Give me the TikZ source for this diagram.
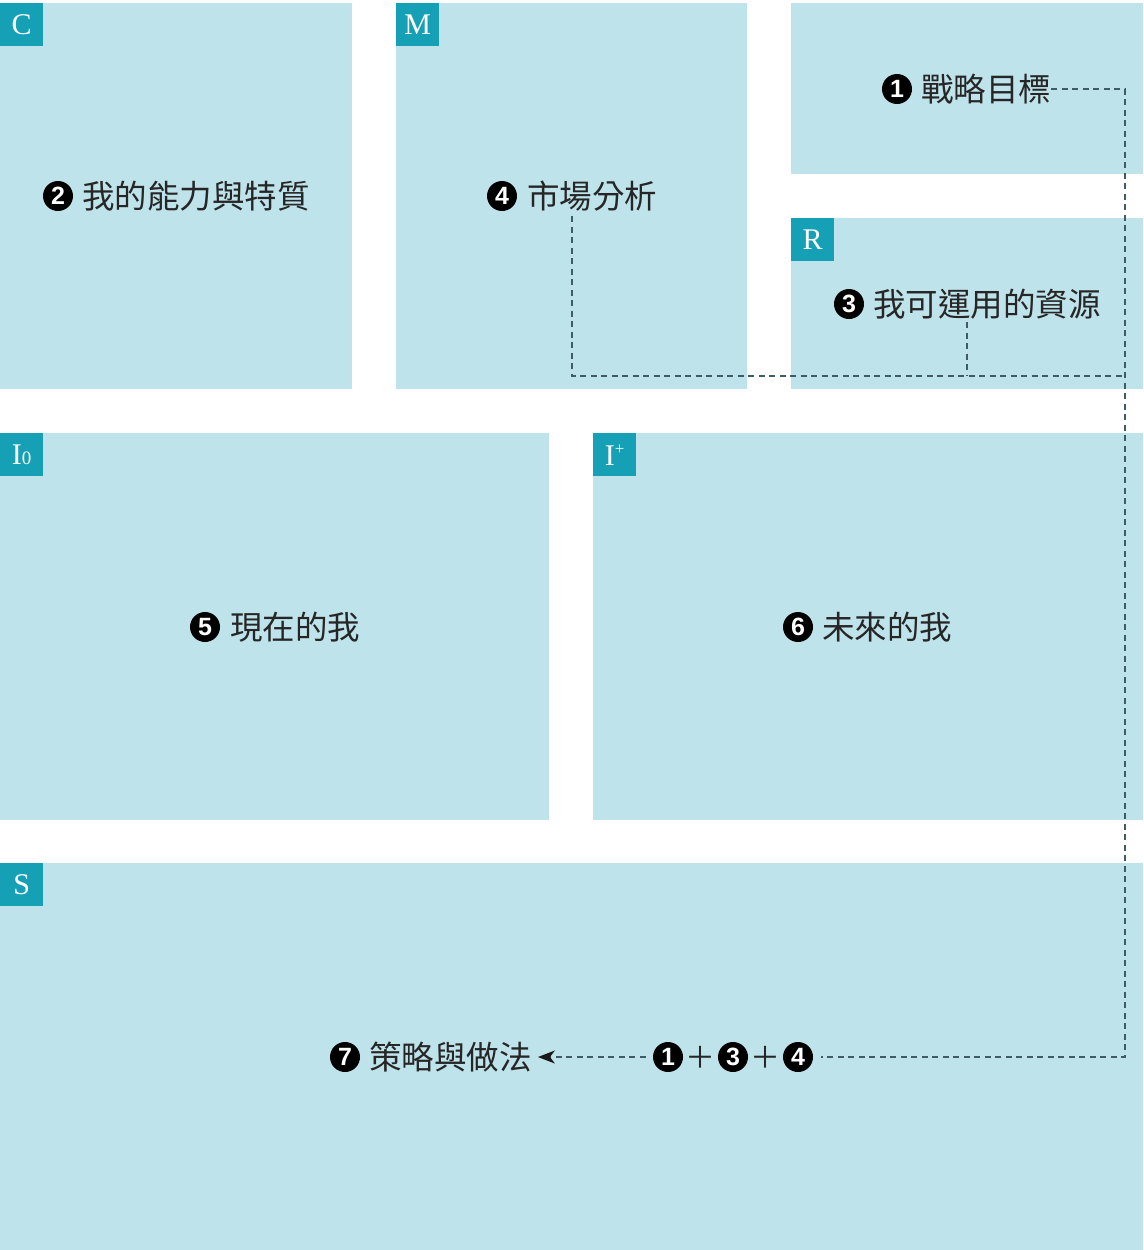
\documentclass[tikz,border=0pt]{standalone}
\usepackage{fontspec}
\usetikzlibrary{arrows.meta}
\newfontfamily\cjk{Noto Sans CJK TC}
\newfontfamily\numf{Liberation Sans}[BoldFont={Liberation Sans Bold}]
\newfontfamily\tagf{Liberation Serif}
\definecolor{boxfill}{HTML}{BEE3EA}
\definecolor{tagfill}{HTML}{16A0B5}
\definecolor{dashcol}{HTML}{3E5B66}
\tikzset{
  panel/.style={fill=boxfill, draw=none, anchor=north west, inner sep=0pt, outer sep=0pt},
  tag/.style={fill=tagfill, anchor=north west, minimum width=43pt, minimum height=43pt, inner sep=0pt, text=white, font=\tagf\fontsize{30}{30}\selectfont},
  num/.style={circle, fill=black, text=white, minimum size=30pt, inner sep=0pt, font=\numf\bfseries\fontsize{25}{25}\selectfont},
  lbl/.style={anchor=west, inner sep=0pt, text=black!85, font=\cjk\fontsize{32.5}{32.5}\selectfont},
  plus/.style={inner sep=0pt, text=black!85, font=\cjk\fontsize{30}{30}\selectfont},
  link/.style={draw=dashcol, line width=1.3pt, dash pattern=on 6pt off 4.5pt},
}
\begin{document}
\begin{tikzpicture}[x=1pt,y=-1pt]
\useasboundingbox (0,0) rectangle (1143,1250);
% panels
\node[panel, minimum width=352pt, minimum height=386pt] (pC) at (0,3) {};
\node[panel, minimum width=351pt, minimum height=386pt] (pM) at (396,3) {};
\node[panel, minimum width=352pt, minimum height=171pt] (pG) at (791,3) {};
\node[panel, minimum width=352pt, minimum height=171pt] (pR) at (791,218) {};
\node[panel, minimum width=549pt, minimum height=387pt] (pI) at (0,433) {};
\node[panel, minimum width=550pt, minimum height=387pt] (pF) at (593,433) {};
\node[panel, minimum width=1143pt, minimum height=387pt] (pS) at (0,863) {};
% tags
\node[tag] (tC) at (0,3) {C};
\node[tag] (tM) at (396,3) {M};
\node[tag] (tR) at (791,218) {R};
\node[tag] (tI) at (0,433) {I\raisebox{0pt}{\fontsize{19}{19}\selectfont 0}};
\node[tag] (tF) at (593,433) {I\raisebox{11pt}{\fontsize{17}{17}\selectfont +}};
\node[tag] (tS) at (0,863) {S};
% labels
\node[num] (n2) at (58,196) {2};
\node[lbl] (l2) at (82,196) {我的能力與特質};
\node[num] (n4) at (502,196) {4};
\node[lbl] (l4) at (527,196) {市場分析};
\node[num] (n1) at (897,89) {1};
\node[lbl] (l1) at (921,89) {戰略目標};
\node[num] (n3) at (849,304) {3};
\node[lbl] (l3) at (873,304) {我可運用的資源};
\node[num] (n5) at (205,627) {5};
\node[lbl] (l5) at (230,627) {現在的我};
\node[num] (n6) at (798,627) {6};
\node[lbl] (l6) at (822,627) {未來的我};
\node[num] (n7) at (345,1057) {7};
\node[lbl] (l7) at (369,1057) {策略與做法};
% formula
\node[num] (f1) at (668,1057) {1};
\node[plus] (fp1) at (700,1057) {＋};
\node[num] (f3) at (733,1057) {3};
\node[plus] (fp2) at (765,1057) {＋};
\node[num] (f4) at (798,1057) {4};
% connectors
\coordinate (cTR) at (1125,89);
\coordinate (cBR) at (1125,1057);
\coordinate (mTop) at (572,216);
\coordinate (mBot) at (572,376);
\coordinate (rTop) at (967,322);
\coordinate (rBot) at (967,376);
\coordinate (mR) at (1125,376);
\draw[link] (l1.east) -- (cTR) -- (cBR) -- ([xshift=8pt]f4.east);
\draw[link] (mTop) -- (mBot) -- (mR);
\draw[link] (rTop) -- (rBot);
\draw[link, arrows={-Stealth[length=17pt,width=13pt,inset=5pt,color=black!90]}] ([xshift=-7pt]f1.west) -- ([xshift=6pt]l7.east);
\end{tikzpicture}
\end{document}
